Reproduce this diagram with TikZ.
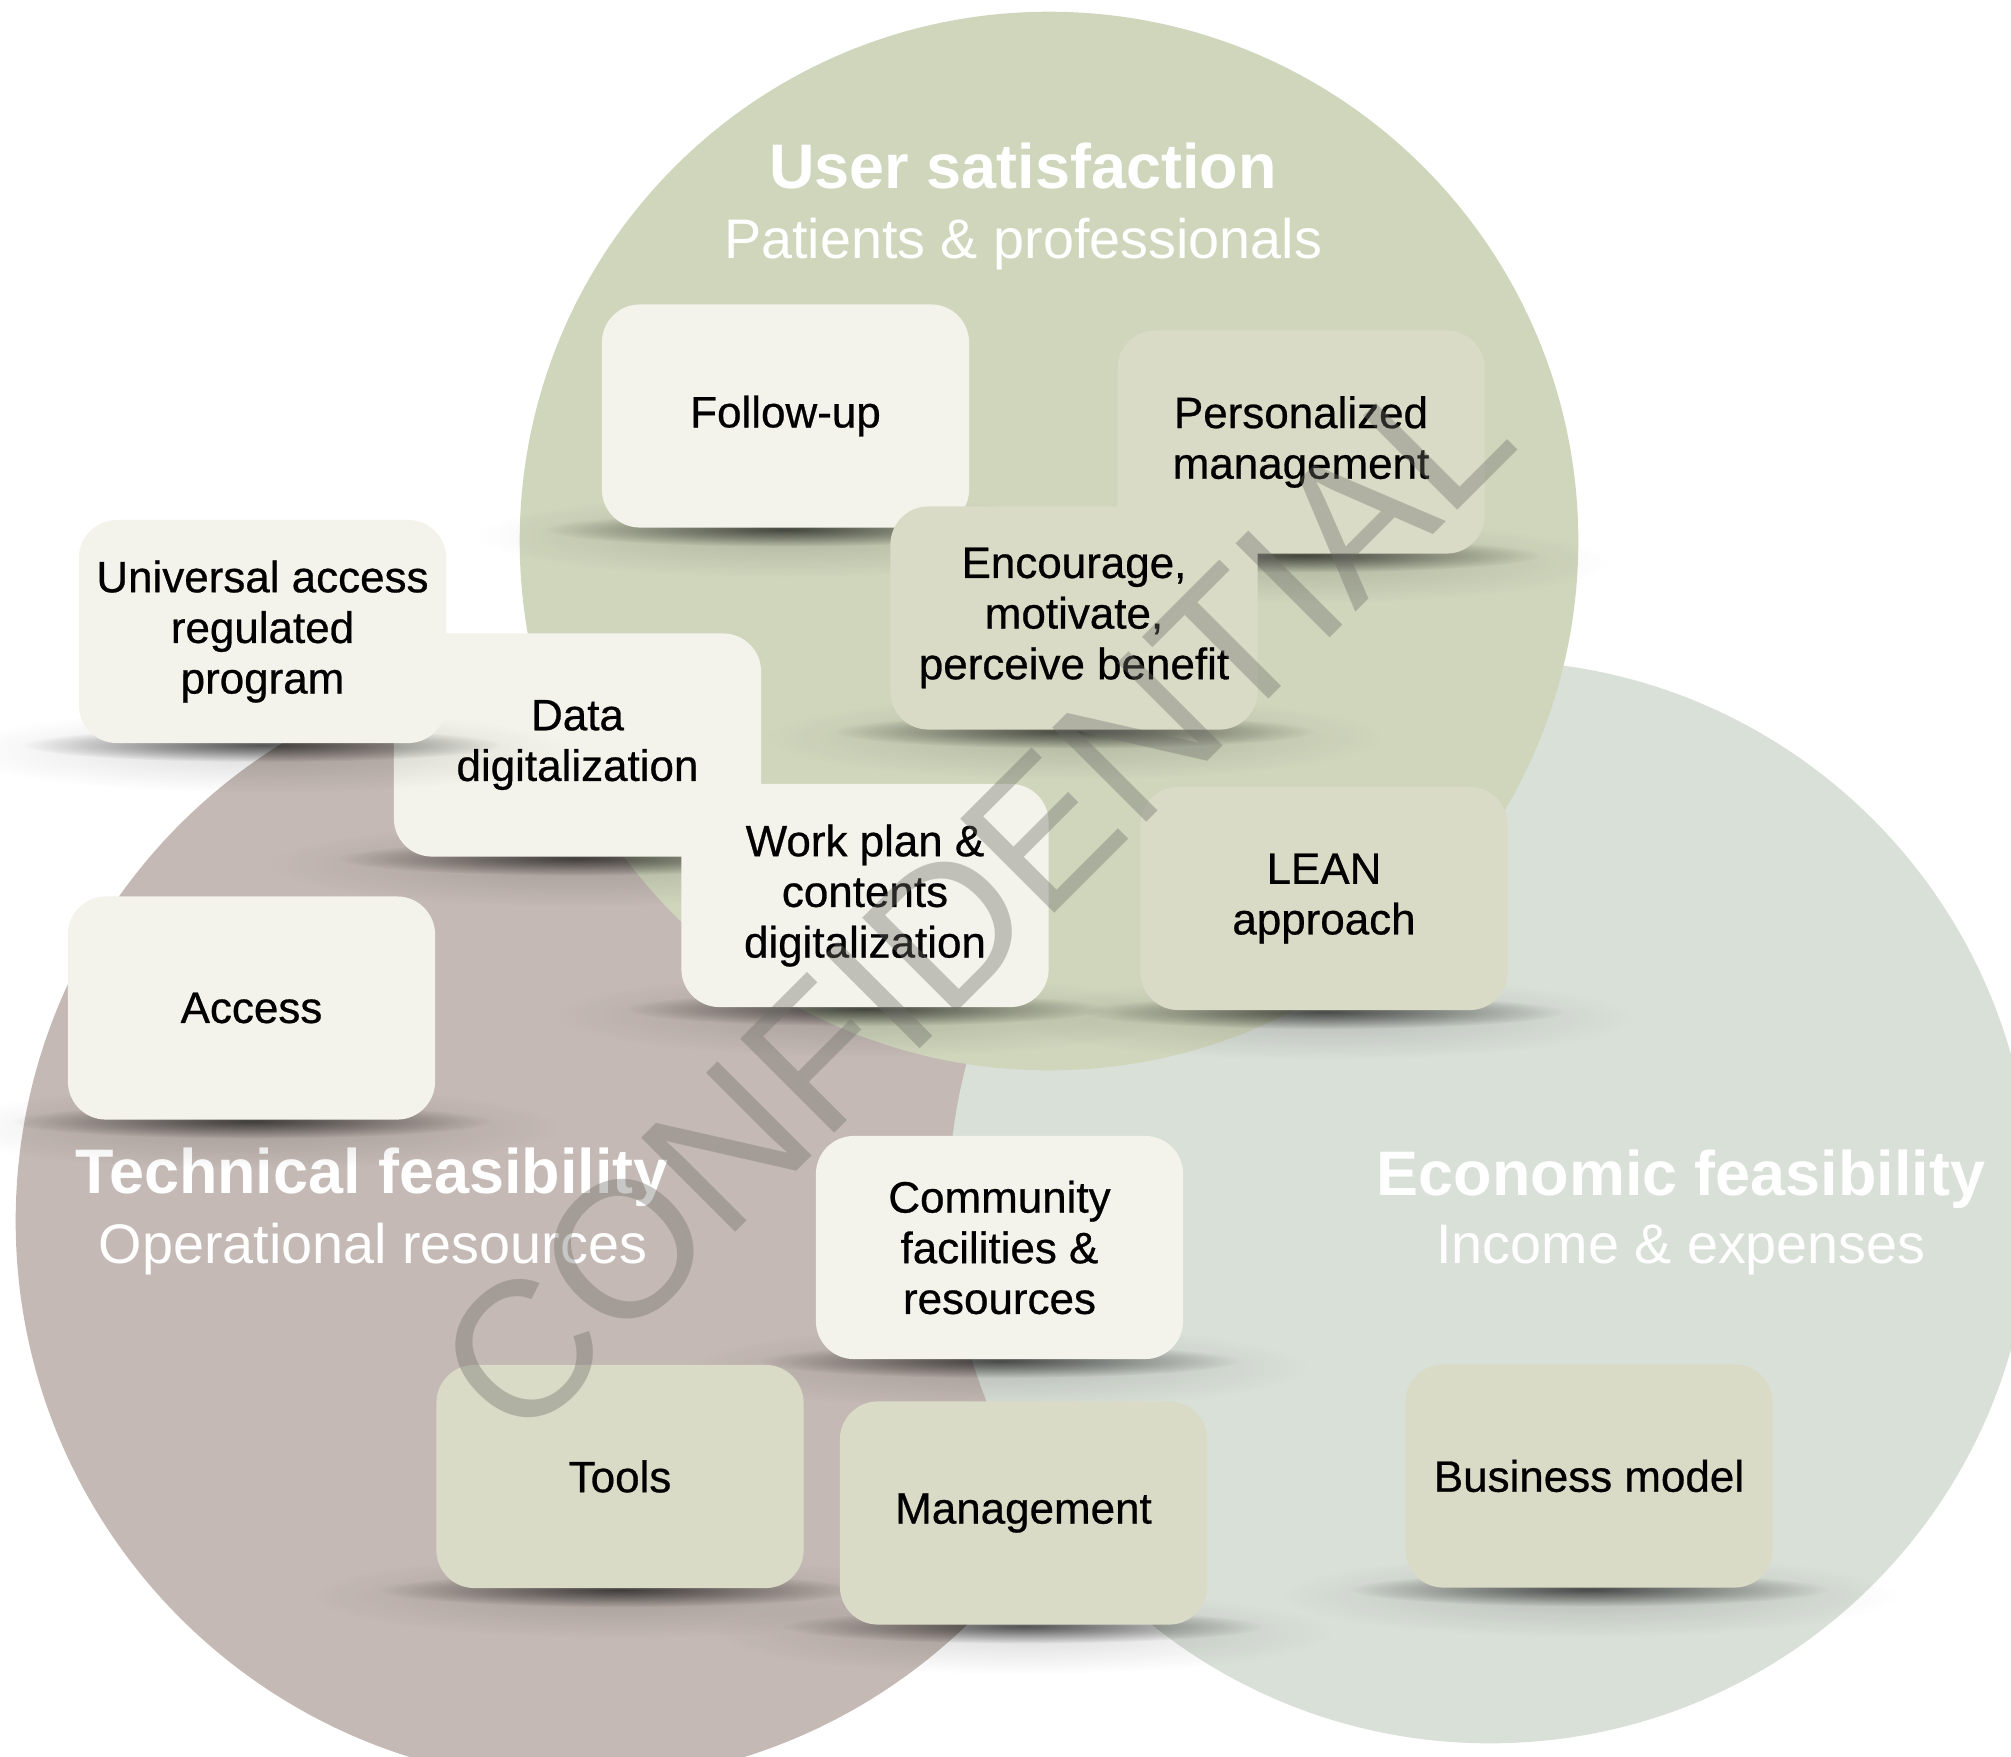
\documentclass[tikz,border=0pt]{standalone}
\usepackage{fontspec}
\setmainfont{Liberation Sans}
\newfontfamily\cardfamily{Liberation Sans}[FakeBold=0.6]
\usetikzlibrary{fadings}

\definecolor{usercol}{RGB}{208,214,188}
\definecolor{techcol}{RGB}{196,185,180}
\definecolor{econcol}{RGB}{217,224,216}
\definecolor{lightbox}{RGB}{243,243,235}
\definecolor{darkbox}{RGB}{218,219,198}
\definecolor{markgray}{RGB}{110,110,105}

\newcommand{\boxfont}{\cardfamily\fontsize{12.5}{14.4}\selectfont}
\newcommand{\headfont}{\fontsize{17.9}{20}\selectfont\bfseries}
\newcommand{\subfont}{\fontsize{15.85}{18}\selectfont}
\newcommand{\markfont}{\fontsize{55}{56}\selectfont}

\tikzfading[name=softedge, inner color=transparent!0, outer color=transparent!100]

% a rounded card with a soft contact shadow under its lower edge
\newcommand{\card}[5]{%
  \fill[black, opacity=0.14, path fading=softedge]
    (#2,#3+119.5) ellipse [x radius=3.1cm, y radius=0.42cm];
  \fill[black, opacity=0.62, path fading=softedge]
    (#2,#3+113.5) ellipse [x radius=2.4cm, y radius=0.17cm];
  \node[#4] (#1) at (#2,#3) {#5};
}

\begin{document}
\begin{tikzpicture}[x=0.01cm, y=-0.01cm,
  card/.style={rounded corners=0.38cm, minimum width=3.67cm, minimum height=2.23cm,
    inner sep=0pt, align=center, font=\boxfont, text=black},
  pale/.style={card, fill=lightbox},
  sage/.style={card, fill=darkbox},
  headline/.style={text=white, anchor=base, inner sep=0pt, font=\headfont},
  subline/.style={text=white, anchor=base, inner sep=0pt, font=\subfont}]

\useasboundingbox (0,0) rectangle (2011,1756);
\fill[white] (0,0) rectangle (2011,1756);

% the three overlapping areas
\fill[techcol] (577,1221) circle [radius=5.61cm];
\fill[econcol] (1490,1202) circle [radius=5.41cm];
\fill[usercol] (1049,541) circle [radius=5.29cm];

% area titles
\node[headline] (usr) at (1023,188) {User satisfaction};
\node[subline] (usrsub) at (1023,258) {Patients \& professionals};
\node[headline] (tech) at (372,1193) {Technical feasibility};
\node[subline] (techsub) at (373,1263) {Operational resources};
\node[headline] (econ) at (1681,1195) {Economic feasibility};
\node[subline] (econsub) at (1681,1263) {Income \& expenses};

% cards
\card{follow}{785.5}{416}{pale}{Follow-up}
\card{personal}{1301}{442}{sage}{Personalized\\management}
\card{encourage}{1074}{618}{sage}{Encourage,\\motivate,\\perceive benefit}
\card{data}{577.5}{745}{pale}{Data\\digitalization}
\card{universal}{262.5}{631.5}{pale}{Universal access\\regulated\\program}
\card{workplan}{865}{895.5}{pale}{Work plan \&\\contents\\digitalization}
\card{lean}{1324}{898.5}{sage}{LEAN\\approach}
\card{access}{251.5}{1008}{pale}{Access}
\card{community}{999.5}{1247.5}{pale}{Community\\facilities \&\\resources}
\card{tools}{620}{1476.5}{sage}{Tools}
\card{management}{1023.5}{1513}{sage}{Management}
\card{business}{1589}{1476}{sage}{Business model}

% watermark
\node[rotate=45, text=markgray, opacity=0.38, font=\markfont, inner sep=0pt]
  (mark) at (974,900) {CONFIDENTIAL};

\end{tikzpicture}
\end{document}
